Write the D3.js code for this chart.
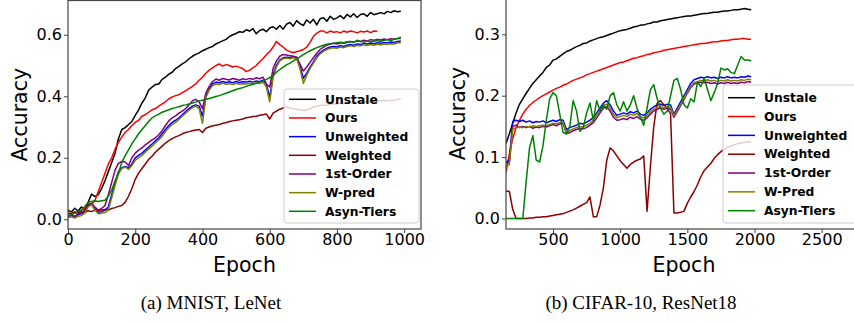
<!DOCTYPE html>
<html>
<head>
<meta charset="utf-8">
<script src="https://cdn.jsdelivr.net/npm/d3@7"></script>
<style>
  body { margin: 0; background: #fff; }
  text { font-family: "DejaVu Sans", sans-serif; fill: #000; }
</style>
</head>
<body>
<script>
// ---- data: (a) MNIST, LeNet ----
const mnistEpochs = [0,10,20,30,40,50,60,70,80,90,100,110,120,130,140,150,160,170,180,190,
  200,210,220,230,240,250,260,270,280,290,300,310,320,330,340,350,360,370,380,390,
  400,410,420,430,440,450,460,470,480,490,500,510,520,530,540,550,560,570,580,590,
  600,610,620,630,640,650,660,670,680,690,700,710,720,730,740,750,760,770,780,790,
  800,810,820,830,840,850,860,870,880,890,900,910,920,930,940,950,960,970,980,990];
const mnistUnstale = [0.030,0.024,0.036,0.027,0.040,0.032,0.055,0.082,0.074,0.080,
  0.100,0.125,0.155,0.185,0.215,0.262,0.292,0.298,0.308,0.318,
  0.338,0.356,0.378,0.395,0.420,0.430,0.438,0.440,0.455,0.462,
  0.472,0.478,0.490,0.497,0.505,0.512,0.522,0.530,0.536,0.541,
  0.548,0.553,0.558,0.562,0.570,0.575,0.580,0.585,0.594,0.600,
  0.604,0.610,0.608,0.616,0.612,0.620,0.603,0.614,0.618,0.610,
  0.622,0.626,0.618,0.630,0.618,0.634,0.640,0.628,0.646,0.636,
  0.630,0.648,0.638,0.650,0.632,0.652,0.655,0.644,0.660,0.650,
  0.655,0.662,0.652,0.666,0.658,0.668,0.656,0.666,0.668,0.660,
  0.672,0.665,0.668,0.672,0.668,0.676,0.672,0.678,0.675,0.676];
const mnistOurs = [0.020,0.018,0.025,0.022,0.030,0.035,0.045,0.050,0.060,0.090,
  0.120,0.150,0.180,0.200,0.228,0.250,0.268,0.282,0.292,0.305,
  0.315,0.322,0.335,0.340,0.348,0.356,0.360,0.368,0.375,0.382,
  0.392,0.398,0.402,0.405,0.412,0.418,0.425,0.432,0.440,0.452,
  0.462,0.475,0.485,0.492,0.500,0.505,0.498,0.503,0.500,0.495,
  0.498,0.494,0.490,0.480,0.485,0.492,0.500,0.512,0.522,0.535,
  0.545,0.560,0.578,0.568,0.560,0.550,0.545,0.542,0.545,0.548,
  0.552,0.560,0.575,0.595,0.605,0.612,0.612,0.606,0.612,0.608,
  0.610,0.606,0.612,0.608,0.612,0.610,0.606,0.611,0.609,0.612,
  0.607,0.612,0.611];
const mnistUnweighted = [0.010,0.012,0.008,0.015,0.018,0.025,0.045,0.050,0.035,0.022,
  0.025,0.030,0.040,0.080,0.120,0.155,0.168,0.172,0.168,0.180,
  0.200,0.208,0.215,0.225,0.235,0.245,0.255,0.265,0.278,0.292,
  0.305,0.315,0.322,0.330,0.340,0.350,0.360,0.368,0.372,0.368,
  0.335,0.400,0.425,0.440,0.446,0.444,0.448,0.445,0.447,0.444,
  0.448,0.445,0.447,0.446,0.449,0.446,0.450,0.447,0.452,0.440,
  0.395,0.470,0.500,0.518,0.525,0.527,0.525,0.528,0.525,0.500,
  0.458,0.475,0.495,0.512,0.530,0.542,0.550,0.556,0.560,0.562,
  0.560,0.565,0.562,0.566,0.568,0.566,0.570,0.568,0.572,0.570,
  0.573,0.571,0.574,0.572,0.575,0.574,0.576,0.575,0.578,0.580];
const mnistWeighted = [0.020,0.018,0.022,0.020,0.025,0.022,0.028,0.025,0.030,0.028,
  0.030,0.032,0.030,0.035,0.038,0.042,0.045,0.055,0.075,0.100,
  0.130,0.150,0.165,0.180,0.195,0.205,0.218,0.228,0.238,0.248,
  0.256,0.262,0.268,0.272,0.278,0.282,0.285,0.288,0.290,0.292,
  0.282,0.296,0.300,0.304,0.306,0.308,0.312,0.314,0.318,0.320,
  0.322,0.324,0.326,0.330,0.332,0.334,0.335,0.338,0.340,0.342,
  0.326,0.345,0.352,0.358,0.362,0.365,0.362,0.360,0.358,0.356,
  0.354,0.355,0.360,0.365,0.368,0.370,0.372,0.370,0.374,0.376,
  0.375,0.378,0.376,0.378,0.380,0.379,0.381,0.380,0.382,0.381,
  0.383,0.382,0.384,0.385,0.386,0.385,0.387,0.386,0.390,0.392];
const mnistFirstOrder = [0.012,0.015,0.010,0.018,0.020,0.030,0.048,0.052,0.040,0.030,
  0.035,0.045,0.080,0.120,0.160,0.182,0.188,0.186,0.175,0.200,
  0.215,0.225,0.232,0.242,0.250,0.258,0.265,0.275,0.288,0.305,
  0.320,0.330,0.336,0.345,0.352,0.360,0.372,0.385,0.390,0.382,
  0.360,0.410,0.432,0.448,0.456,0.452,0.458,0.455,0.453,0.458,
  0.455,0.452,0.457,0.454,0.458,0.455,0.460,0.457,0.462,0.440,
  0.430,0.490,0.515,0.530,0.536,0.534,0.532,0.530,0.528,0.505,
  0.482,0.495,0.510,0.525,0.540,0.552,0.560,0.566,0.570,0.572,
  0.570,0.574,0.572,0.575,0.578,0.576,0.580,0.578,0.582,0.580,
  0.584,0.582,0.585,0.583,0.586,0.584,0.587,0.585,0.588,0.588];
const mnistWPred = [0.005,0.008,0.004,0.010,0.012,0.020,0.040,0.048,0.030,0.018,
  0.020,0.022,0.030,0.070,0.110,0.148,0.165,0.170,0.162,0.175,
  0.192,0.200,0.208,0.218,0.228,0.238,0.248,0.258,0.270,0.285,
  0.298,0.308,0.315,0.325,0.335,0.345,0.355,0.362,0.368,0.360,
  0.312,0.395,0.420,0.435,0.440,0.438,0.442,0.439,0.441,0.438,
  0.442,0.439,0.441,0.440,0.443,0.440,0.444,0.441,0.446,0.430,
  0.382,0.460,0.495,0.515,0.522,0.524,0.522,0.525,0.522,0.490,
  0.442,0.468,0.490,0.508,0.525,0.538,0.546,0.552,0.556,0.558,
  0.556,0.560,0.558,0.562,0.564,0.562,0.566,0.564,0.567,0.565,
  0.568,0.566,0.569,0.567,0.570,0.569,0.571,0.570,0.573,0.575];
const mnistAsynTiers = [0.010,0.015,0.020,0.025,0.030,0.042,0.055,0.058,0.060,0.058,
  0.060,0.062,0.075,0.095,0.125,0.150,0.185,0.207,0.226,0.245,
  0.262,0.278,0.292,0.305,0.318,0.330,0.336,0.342,0.348,0.352,
  0.356,0.360,0.363,0.366,0.370,0.372,0.375,0.378,0.381,0.385,
  0.387,0.390,0.393,0.396,0.399,0.402,0.406,0.410,0.414,0.418,
  0.422,0.425,0.428,0.432,0.436,0.439,0.442,0.446,0.450,0.455,
  0.460,0.468,0.478,0.487,0.495,0.502,0.508,0.515,0.521,0.528,
  0.535,0.542,0.548,0.553,0.558,0.562,0.566,0.569,0.571,0.572,
  0.574,0.576,0.574,0.577,0.578,0.575,0.582,0.578,0.576,0.580,
  0.577,0.579,0.581,0.578,0.582,0.584,0.580,0.586,0.588,0.592];
const mnistNames = ["Unstale", "Ours", "Unweighted", "Weighted", "1st-Order", "W-pred", "Asyn-Tiers"];
const mnistXTicks = [0, 200, 400, 600, 800, 1000];
const mnistYTicks = [0.0, 0.2, 0.4, 0.6];

// ---- data: (b) CIFAR-10, ResNet18 ----
const cifarEpochs = [150,175,200,225,250,275,
  300,325,350,375,400,425,450,475,500,525,550,575,600,625,650,675,
  700,725,750,775,800,825,850,875,900,925,950,975,1000,1025,1050,1075,
  1100,1125,1150,1175,1200,1225,1250,1275,1300,1325,1350,1375,1400,1425,1450,1475,
  1500,1525,1550,1575,1600,1625,1650,1675,1700,1725,1750,1775,1800,1825,1850,1875,
  1900,1925,1950,1975];
const cifarUnstale = [0.122,0.138,0.155,0.172,0.186,0.195,
  0.204,0.212,0.220,0.226,0.232,0.238,0.246,0.250,
  0.258,0.260,0.264,0.268,0.272,0.274,0.277,0.280,
  0.282,0.285,0.286,0.289,0.291,0.293,0.295,0.296,
  0.298,0.300,0.302,0.304,0.306,0.307,0.308,0.310,
  0.312,0.313,0.315,0.315,0.317,0.318,0.320,0.320,
  0.322,0.323,0.324,0.325,0.326,0.327,0.328,0.329,
  0.330,0.330,0.331,0.332,0.333,0.334,0.334,0.335,
  0.336,0.336,0.337,0.338,0.338,0.339,0.340,0.340,
  0.341,0.342,0.341,0.340];
const cifarOurs = [0.075,0.105,0.130,0.148,0.160,0.170,
  0.178,0.184,0.189,0.193,0.197,0.200,0.203,0.206,
  0.209,0.212,0.214,0.217,0.219,0.222,0.225,0.227,
  0.229,0.231,0.234,0.236,0.238,0.240,0.242,0.244,
  0.246,0.248,0.250,0.252,0.254,0.255,0.257,0.259,
  0.261,0.262,0.264,0.265,0.267,0.268,0.270,0.271,
  0.272,0.274,0.275,0.276,0.277,0.278,0.279,0.280,
  0.281,0.282,0.283,0.284,0.285,0.285,0.286,0.287,
  0.288,0.288,0.289,0.290,0.290,0.291,0.292,0.292,
  0.293,0.293,0.292,0.292];
const cifarUnweighted = [0.092,0.095,0.158,0.160,0.158,0.160,
  0.157,0.159,0.156,0.158,0.157,0.159,0.156,0.158,
  0.160,0.158,0.161,0.160,0.145,0.148,0.150,0.152,
  0.155,0.154,0.157,0.160,0.165,0.172,0.180,0.188,
  0.192,0.185,0.175,0.168,0.170,0.172,0.170,0.174,
  0.172,0.175,0.170,0.168,0.172,0.178,0.182,0.185,
  0.186,0.184,0.186,0.185,0.170,0.180,0.190,0.200,
  0.210,0.220,0.226,0.228,0.230,0.229,0.231,0.229,
  0.230,0.228,0.230,0.229,0.231,0.229,0.230,0.229,
  0.231,0.230,0.232,0.231];
const cifarWeighted = [0.045,0.044,0.015,0.000,0.000,0.000,
  0.000,0.001,0.001,0.002,0.002,0.003,0.003,0.004,
  0.005,0.006,0.007,0.008,0.010,0.012,0.014,0.017,
  0.020,0.023,0.026,0.035,0.003,0.003,0.022,0.050,
  0.095,0.115,0.110,0.102,0.094,0.088,0.082,0.088,
  0.092,0.095,0.097,0.102,0.012,0.085,0.150,0.188,
  0.192,0.185,0.180,0.170,0.009,0.009,0.010,0.012,
  0.025,0.035,0.044,0.055,0.068,0.078,0.084,0.090,
  0.098,0.104,0.109,0.113,0.116,0.118,0.120,0.122,
  0.123,0.124,0.125,0.125];
const cifarFirstOrder = [0.090,0.092,0.150,0.152,0.148,0.150,
  0.148,0.150,0.147,0.149,0.148,0.150,0.149,0.151,
  0.153,0.151,0.154,0.155,0.138,0.140,0.143,0.145,
  0.147,0.146,0.148,0.152,0.156,0.164,0.172,0.180,
  0.182,0.175,0.165,0.160,0.161,0.163,0.161,0.165,
  0.163,0.166,0.162,0.160,0.164,0.170,0.175,0.178,
  0.180,0.178,0.180,0.178,0.165,0.174,0.184,0.194,
  0.204,0.213,0.219,0.221,0.222,0.221,0.222,0.220,
  0.221,0.219,0.221,0.220,0.222,0.220,0.221,0.220,
  0.222,0.221,0.223,0.222];
const cifarWPred = [0.085,0.088,0.145,0.148,0.149,0.148,
  0.150,0.149,0.151,0.150,0.151,0.152,0.151,0.153,
  0.155,0.154,0.156,0.157,0.140,0.143,0.146,0.148,
  0.150,0.149,0.152,0.155,0.160,0.168,0.176,0.184,
  0.186,0.180,0.170,0.164,0.166,0.168,0.166,0.170,
  0.168,0.171,0.166,0.164,0.168,0.174,0.178,0.181,
  0.182,0.180,0.182,0.181,0.168,0.176,0.186,0.196,
  0.206,0.215,0.221,0.223,0.225,0.224,0.226,0.224,
  0.225,0.223,0.225,0.224,0.226,0.224,0.225,0.224,
  0.226,0.225,0.227,0.226];
const cifarAsynTiers = [0.000,0.000,0.000,0.000,0.000,0.000,
  0.060,0.115,0.135,0.095,0.092,0.118,0.160,0.195,
  0.205,0.200,0.170,0.140,0.138,0.150,0.192,0.175,
  0.142,0.148,0.172,0.188,0.160,0.192,0.175,0.185,
  0.178,0.200,0.205,0.185,0.175,0.190,0.175,0.185,
  0.200,0.180,0.165,0.152,0.180,0.210,0.218,0.195,
  0.180,0.170,0.175,0.200,0.225,0.228,0.210,0.185,
  0.180,0.195,0.190,0.222,0.215,0.228,0.210,0.192,
  0.205,0.220,0.245,0.242,0.244,0.238,0.236,0.250,
  0.264,0.258,0.258,0.257];
const cifarNames = ["Unstale", "Ours", "Unweighted", "Weighted", "1st-Order", "W-Pred", "Asyn-Tiers"];
const cifarXTicks = [500, 1000, 1500, 2000, 2500];
const cifarYTicks = [0.0, 0.1, 0.2, 0.3];

const colors = ["#000000", "#ff0000", "#0000ff", "#8b0000", "#800080", "#808000", "#008000"];

const svg = d3.select("body").append("svg")
    .attr("width", 854)
    .attr("height", 325);

function drawPanel(p) {
    const x = d3.scaleLinear().domain(p.xDomain).range(p.xRange);
    const y = d3.scaleLinear().domain(p.yDomain).range(p.yRange);
    const g = svg.append("g");

    // clip lines to the axes box
    g.append("clipPath").attr("id", p.id + "-clip")
        .append("rect")
        .attr("x", p.xRange[0]).attr("y", p.yRange[1])
        .attr("width", p.xRange[1] - p.xRange[0])
        .attr("height", p.yRange[0] - p.yRange[1]);

    const line = d3.line().x(d => x(d[0])).y(d => y(d[1]));
    const lines = g.append("g").attr("clip-path", `url(#${p.id}-clip)`);
    p.series.forEach((vals, i) => {
        lines.append("path")
            .datum(vals.map((v, k) => [p.epochs[k], v]))
            .attr("fill", "none")
            .attr("stroke", colors[i])
            .attr("stroke-width", 1.5)
            .attr("stroke-linejoin", "round")
            .attr("d", line);
    });

    // axes
    const xAxis = g.append("g")
        .attr("transform", `translate(0,${p.yRange[0]})`)
        .call(d3.axisBottom(x).tickValues(p.xTicks).tickFormat(d3.format("d"))
            .tickSize(4).tickSizeOuter(0).tickPadding(1));
    const yAxis = g.append("g")
        .attr("transform", `translate(${p.xRange[0]},0)`)
        .call(d3.axisLeft(y).tickValues(p.yTicks).tickFormat(d3.format(".1f"))
            .tickSize(4).tickSizeOuter(0).tickPadding(2));
    [xAxis, yAxis].forEach(a => {
        a.select(".domain").remove();
        a.selectAll(".tick line").attr("stroke", "#444").attr("stroke-width", 1);
        a.selectAll(".tick text").style("font-family", "DejaVu Sans").style("font-size", "16px").attr("fill", "#000");
    });

    // frame
    g.append("rect")
        .attr("x", p.xRange[0]).attr("y", p.yRange[1])
        .attr("width", p.xRange[1] - p.xRange[0])
        .attr("height", p.yRange[0] - p.yRange[1])
        .attr("fill", "none")
        .attr("stroke", "#444")
        .attr("stroke-width", 1.2);

    // legend
    const L = p.legend;
    const lg = g.append("g");
    lg.append("rect")
        .attr("x", L.x).attr("y", L.y).attr("width", L.w).attr("height", L.h)
        .attr("rx", 3)
        .attr("fill", "#fff").attr("fill-opacity", 0.8)
        .attr("stroke", "#cccccc").attr("stroke-width", 1);
    p.names.forEach((name, i) => {
        const yy = L.row0 + i * L.step;
        lg.append("line")
            .attr("x1", L.x + 5).attr("x2", L.x + 32)
            .attr("y1", yy).attr("y2", yy)
            .attr("stroke", colors[i]).attr("stroke-width", 1.5);
        lg.append("text")
            .attr("x", L.x + 41).attr("y", yy)
            .attr("dy", "0.35em")
            .style("font-size", "12.3px")
            .style("font-weight", "bold")
            .text(name);
    });

    // axis labels
    const cx = (p.xRange[0] + p.xRange[1]) / 2;
    g.append("text")
        .attr("x", cx).attr("y", 272)
        .attr("text-anchor", "middle")
        .style("font-size", "20.5px")
        .text("Epoch");
    g.append("text")
        .attr("transform", `translate(${p.yLabelX},${(p.yRange[0] + p.yRange[1]) / 2}) rotate(-90)`)
        .attr("text-anchor", "middle")
        .attr("dy", "0.35em")
        .style("font-size", "20.5px")
        .text("Accuracy");

    // caption
    svg.append("text")
        .attr("x", p.captionX).attr("y", 309)
        .attr("text-anchor", "middle")
        .style("font-family", "'Liberation Serif', 'Times New Roman', serif")
        .style("font-size", "19px")
        .text(p.caption);
}

drawPanel({
    id: "mnist",
    epochs: mnistEpochs,
    series: [mnistUnstale, mnistOurs, mnistUnweighted, mnistWeighted, mnistFirstOrder, mnistWPred, mnistAsynTiers],
    names: mnistNames,
    xDomain: [0, 1050], xRange: [68, 421],
    yDomain: [-0.0315, 0.7113], yRange: [229, 0.5],
    xTicks: mnistXTicks, yTicks: mnistYTicks,
    legend: { x: 284, y: 89, w: 135, h: 134, row0: 99.3, step: 18.67 },
    yLabelX: 20,
    captionX: 211,
    caption: "(a) MNIST, LeNet"
});

drawPanel({
    id: "cifar",
    epochs: cifarEpochs,
    series: [cifarUnstale, cifarOurs, cifarUnweighted, cifarWeighted, cifarFirstOrder, cifarWPred, cifarAsynTiers],
    names: cifarNames,
    xDomain: [150, 2800], xRange: [506, 862],
    yDomain: [-0.0171, 0.359], yRange: [229, -1.9],
    xTicks: cifarXTicks, yTicks: cifarYTicks,
    legend: { x: 723, y: 85, w: 136, h: 138, row0: 97.7, step: 18.83 },
    yLabelX: 457.5,
    captionX: 641,
    caption: "(b) CIFAR-10, ResNet18"
});
</script>
</body>
</html>
